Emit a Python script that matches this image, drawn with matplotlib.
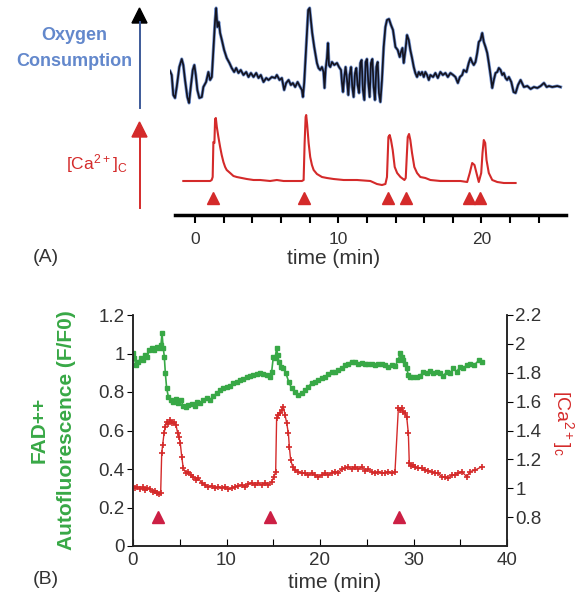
"""Two-panel figure: oxygen consumption / cytosolic Ca2+ (A) and FAD autofluorescence vs Ca2+ (B)."""

import matplotlib
matplotlib.use("Agg")
import matplotlib.pyplot as plt
from matplotlib.patches import Polygon

plt.rcParams['font.family'] = ['Liberation Sans', 'DejaVu Sans']
plt.rcParams['mathtext.default'] = 'regular'

# ---- Panel A data (arbitrary units, time in min) ----
o2_time = [-1.75, -1.63, -1.52, -1.40, -1.28, -1.10, -0.93, -0.82, -0.70, -0.54,
           -0.42, -0.30, -0.16, -0.05, 0.05, 0.16, 0.30, 0.47, 0.58, 0.77,
           0.93, 1.05, 1.17, 1.28, 1.40, 1.47, 1.56, 1.66, 1.75, 1.87,
           2.03, 2.21, 2.40, 2.56, 2.73, 2.87, 3.03, 3.19, 3.38, 3.57,
           3.73, 3.90, 4.08, 4.27, 4.43, 4.59, 4.78, 4.97, 5.13, 5.36,
           5.59, 5.71, 5.90, 6.06, 6.22, 6.36, 6.53, 6.69, 6.83, 6.99,
           7.16, 7.34, 7.46, 7.53, 7.62, 7.71, 7.81, 7.90, 8.00, 8.09,
           8.18, 8.32, 8.51, 8.62, 8.74, 8.86, 8.97, 9.04, 9.11, 9.21,
           9.28, 9.35, 9.44, 9.56, 9.72, 9.91, 10.05, 10.19, 10.26, 10.33,
           10.42, 10.51, 10.61, 10.70, 10.79, 10.89, 10.98, 11.07, 11.17, 11.26,
           11.35, 11.45, 11.54, 11.63, 11.72, 11.82, 11.91, 12.00, 12.10, 12.19,
           12.28, 12.38, 12.47, 12.56, 12.66, 12.75, 12.84, 12.94, 13.05, 13.17,
           13.29, 13.40, 13.54, 13.68, 13.82, 13.99, 14.15, 14.29, 14.38, 14.48,
           14.57, 14.69, 14.80, 14.92, 15.03, 15.15, 15.27, 15.38, 15.50, 15.62,
           15.73, 15.85, 15.97, 16.08, 16.20, 16.32, 16.43, 16.62, 16.78, 16.95,
           17.13, 17.30, 17.48, 17.65, 17.83, 18.02, 18.18, 18.35, 18.49, 18.65,
           18.76, 18.95, 19.11, 19.23, 19.34, 19.46, 19.58, 19.70, 19.81, 19.93,
           20.05, 20.16, 20.28, 20.40, 20.51, 20.63, 20.75, 20.86, 20.98, 21.10,
           21.21, 21.33, 21.45, 21.56, 21.68, 21.79, 21.91, 22.08, 22.24, 22.38,
           22.55, 22.73, 22.96, 23.20, 23.43, 23.66, 23.90, 24.13, 24.36, 24.55,
           24.71, 24.94, 25.29, 25.52]
o2_value = [144, 140, 120, 117, 128, 148, 156, 150, 135, 118,
            112, 128, 145, 150, 140, 125, 117, 118, 128, 133,
            143, 135, 138, 165, 195, 207, 188, 193, 182, 175,
            165, 157, 152, 147, 143, 147, 142, 145, 140, 143,
            138, 142, 138, 142, 137, 140, 133, 137, 135, 138,
            137, 140, 135, 137, 125, 132, 135, 130, 132, 128,
            133, 128, 125, 118, 132, 155, 182, 205, 207, 195,
            182, 168, 152, 147, 145, 148, 143, 127, 145, 157,
            172, 150, 148, 153, 150, 152, 148, 145, 132, 123,
            138, 148, 135, 120, 140, 148, 128, 118, 142, 147,
            130, 122, 152, 155, 125, 115, 153, 156, 132, 118,
            152, 156, 128, 115, 148, 153, 122, 113, 135, 168,
            188, 195, 196, 190, 185, 168, 165, 158, 163, 167,
            152, 165, 180, 175, 165, 157, 148, 142, 138, 143,
            140, 143, 138, 143, 140, 135, 140, 138, 142, 137,
            143, 140, 142, 138, 142, 140, 138, 132, 138, 140,
            145, 143, 152, 157, 153, 150, 153, 162, 173, 175,
            182, 173, 168, 162, 152, 140, 127, 135, 142, 143,
            147, 145, 140, 142, 137, 135, 138, 133, 123, 122,
            130, 135, 128, 129, 126, 128, 127, 129, 132, 128,
            129, 128, 129, 128]

ca_a_time = [-0.82, 0.12, 1.05, 1.16, 1.23, 1.28, 1.35, 1.40, 1.45, 1.52,
             1.63, 1.75, 1.86, 1.98, 2.10, 2.21, 2.45, 2.68, 2.91, 3.26,
             3.61, 4.08, 4.55, 5.24, 5.71, 6.18, 6.88, 7.46, 7.58, 7.65,
             7.72, 7.76, 7.83, 7.93, 8.04, 8.16, 8.28, 8.51, 8.86, 9.21,
             9.67, 10.37, 11.31, 12.24, 12.70, 13.05, 13.29, 13.40, 13.50, 13.59,
             13.68, 13.80, 13.94, 14.11, 14.34, 14.62, 14.71, 14.78, 14.85, 14.94,
             15.03, 15.15, 15.31, 15.50, 15.73, 16.08, 16.43, 17.13, 17.83, 18.53,
             19.00, 19.18, 19.35, 19.51, 19.65, 19.81, 19.98, 20.07, 20.16, 20.26,
             20.35, 20.51, 20.75, 21.10, 21.56, 22.38]
ca_a_value = [34, 34, 34, 35, 38, 73, 72, 96, 97, 88,
              78, 68, 60, 53, 48, 45, 42, 39, 38, 37,
              36, 35, 35, 34, 35, 34, 34, 34, 35, 72,
              98, 100, 90, 72, 58, 50, 45, 41, 38, 37,
              36, 35, 35, 34, 31, 30, 31, 38, 78, 80,
              75, 65, 48, 42, 38, 35, 37, 58, 78, 81,
              75, 62, 48, 42, 38, 37, 35, 34, 34, 34,
              33, 42, 52, 50, 42, 33, 42, 62, 75, 72,
              55, 42, 35, 33, 32, 32]

stim_a_time = [1.24, 7.58, 13.45, 14.71, 19.11, 19.93]
stim_a_level = 16.7

# ---- Panel B data ----
fad_time = [0.00, 0.14, 0.32, 0.57, 0.82, 1.03, 1.28, 1.53, 1.75, 2.00,
            2.25, 2.53, 2.82, 2.99, 3.10, 3.24, 3.35, 3.46, 3.60, 3.78,
            4.03, 4.31, 4.60, 4.85, 5.10, 5.38, 5.67, 5.92, 6.27, 6.63,
            6.88, 7.17, 7.52, 7.88, 8.24, 8.59, 8.95, 9.30, 9.66, 10.02,
            10.37, 10.73, 11.09, 11.44, 11.80, 12.16, 12.51, 12.87, 13.23, 13.58,
            13.94, 14.30, 14.65, 14.83, 15.01, 15.19, 15.36, 15.47, 15.61, 15.79,
            16.08, 16.36, 16.65, 16.97, 17.33, 17.68, 18.04, 18.40, 18.75, 19.11,
            19.47, 19.82, 20.18, 20.53, 20.89, 21.25, 21.60, 21.96, 22.32, 22.67,
            23.03, 23.39, 23.74, 24.10, 24.46, 24.81, 25.17, 25.52, 25.88, 26.24,
            26.59, 26.95, 27.31, 27.66, 28.02, 28.38, 28.56, 28.73, 28.91, 29.09,
            29.27, 29.45, 29.62, 29.98, 30.34, 30.69, 31.05, 31.41, 31.76, 32.12,
            32.48, 32.83, 33.19, 33.55, 33.90, 34.26, 34.62, 34.97, 35.33, 35.69,
            36.04, 36.50, 37.00, 37.30]
fad_value = [1.001, 0.975, 0.940, 0.957, 0.975, 0.966, 0.992, 0.983, 1.018, 1.027,
             1.018, 1.035, 1.027, 1.044, 1.105, 1.027, 0.983, 0.897, 0.819, 0.776,
             0.758, 0.750, 0.762, 0.741, 0.758, 0.727, 0.724, 0.733, 0.738, 0.727,
             0.750, 0.741, 0.758, 0.767, 0.758, 0.779, 0.793, 0.810, 0.819, 0.824,
             0.831, 0.845, 0.853, 0.862, 0.866, 0.876, 0.883, 0.888, 0.893, 0.900,
             0.893, 0.886, 0.879, 0.905, 0.983, 0.975, 1.027, 0.992, 0.957, 0.931,
             0.923, 0.897, 0.853, 0.819, 0.802, 0.784, 0.793, 0.810, 0.828, 0.845,
             0.853, 0.862, 0.871, 0.879, 0.893, 0.905, 0.905, 0.914, 0.923, 0.940,
             0.948, 0.957, 0.957, 0.948, 0.952, 0.948, 0.945, 0.945, 0.940, 0.948,
             0.948, 0.940, 0.931, 0.940, 0.935, 0.966, 1.001, 0.983, 0.966, 0.948,
             0.923, 0.888, 0.876, 0.876, 0.879, 0.883, 0.905, 0.900, 0.910, 0.900,
             0.905, 0.897, 0.883, 0.905, 0.897, 0.923, 0.905, 0.931, 0.923, 0.940,
             0.948, 0.940, 0.965, 0.955]

ca_b_time = [0.00, 0.21, 0.46, 0.75, 1.03, 1.28, 1.53, 1.82, 2.10, 2.35,
             2.60, 2.82, 2.96, 3.07, 3.17, 3.32, 3.46, 3.60, 3.78, 3.96,
             4.17, 4.39, 4.60, 4.78, 4.92, 5.06, 5.21, 5.38, 5.67, 5.92,
             6.17, 6.45, 6.74, 6.99, 7.34, 7.70, 8.06, 8.41, 8.77, 9.13,
             9.48, 9.84, 10.20, 10.55, 10.91, 11.27, 11.62, 11.98, 12.34, 12.69,
             13.05, 13.40, 13.76, 14.12, 14.47, 14.83, 15.08, 15.26, 15.36, 15.54,
             15.72, 15.90, 16.08, 16.26, 16.44, 16.62, 16.72, 16.86, 17.08, 17.33,
             17.68, 18.04, 18.40, 18.75, 19.11, 19.47, 19.82, 20.18, 20.53, 20.89,
             21.25, 21.60, 21.96, 22.32, 22.67, 23.03, 23.39, 23.74, 24.10, 24.46,
             24.81, 25.17, 25.52, 25.88, 26.24, 26.59, 26.95, 27.31, 27.66, 28.02,
             28.38, 28.56, 28.73, 28.91, 29.09, 29.27, 29.45, 29.55, 29.70, 29.91,
             30.16, 30.52, 30.88, 31.23, 31.59, 31.95, 32.30, 32.66, 33.02, 33.37,
             33.73, 34.09, 34.44, 34.80, 35.16, 35.70, 36.04, 36.60, 37.30]
ca_b_value = [1.006, 1.000, 1.011, 0.993, 1.006, 0.988, 1.000, 0.993, 0.976, 0.983,
              0.965, 0.958, 0.969, 1.242, 1.300, 1.380, 1.426, 1.461, 1.445, 1.473,
              1.450, 1.461, 1.438, 1.380, 1.357, 1.311, 1.219, 1.138, 1.103, 1.115,
              1.092, 1.080, 1.057, 1.069, 1.038, 1.022, 1.011, 1.016, 1.000, 1.011,
              1.000, 1.011, 0.993, 1.000, 1.011, 1.016, 1.022, 1.011, 1.029, 1.038,
              1.022, 1.034, 1.022, 1.038, 1.022, 1.045, 1.080, 1.115, 1.484, 1.507,
              1.519, 1.542, 1.565, 1.507, 1.450, 1.380, 1.288, 1.196, 1.149, 1.126,
              1.115, 1.103, 1.103, 1.092, 1.103, 1.092, 1.080, 1.092, 1.103, 1.092,
              1.108, 1.115, 1.108, 1.131, 1.138, 1.149, 1.131, 1.149, 1.131, 1.149,
              1.122, 1.131, 1.115, 1.103, 1.115, 1.103, 1.108, 1.115, 1.103, 1.115,
              1.553, 1.542, 1.553, 1.530, 1.519, 1.496, 1.380, 1.173, 1.154, 1.161,
              1.149, 1.138, 1.138, 1.126, 1.122, 1.115, 1.103, 1.103, 1.080, 1.080,
              1.069, 1.092, 1.092, 1.103, 1.115, 1.080, 1.115, 1.126, 1.149]

stim_b_time = [2.7, 14.6, 28.4]
stim_b_level = 0.8

RED = '#d42a2a'
GREEN = '#38a846'
BLUE_TEXT = '#6388cc'
TICK_COLOR = '#333333'

fig = plt.figure(figsize=(5.78, 5.94), dpi=100)
W, H = 578.0, 594.0

# overlay in figure pixels for labels and the schematic arrows
ov = fig.add_axes([0, 0, 1, 1])
ov.set_xlim(0, W)
ov.set_ylim(H, 0)
ov.axis('off')
ov.patch.set_visible(False)

# ---------------- Panel A ----------------
axA = fig.add_axes([175 / W - (0.35 * 14.3) / W, 1 - 215 / H, (566 - 175 + 0.35 * 14.3) / W, 215 / H])
axA.patch.set_visible(False)
axA.set_xlim(-1.75, 25.9)
axA.set_ylim(0, 215)
axA.plot(o2_time, o2_value, color='#7292d0', lw=2.3, solid_joinstyle='round')
axA.plot(o2_time, o2_value, color='#141420', lw=1.25)
axA.plot(ca_a_time, ca_a_value, color=RED, lw=1.5)
axA.plot(stim_a_time, [stim_a_level] * len(stim_a_time), ls='none', marker='^',
         ms=8, color=RED, mec=RED)
for side in ['top', 'left', 'right']:
    axA.spines[side].set_visible(False)
axA.spines['bottom'].set_bounds(-1.4, 25.9)
axA.spines['bottom'].set_linewidth(2.5)
axA.set_yticks([])
axA.set_xticks([0, 10, 20])
axA.set_xticks(range(2, 26, 2), minor=True)
axA.tick_params(axis='x', which='both', direction='out', length=6, width=1.5,
                labelsize=12.5, labelcolor=TICK_COLOR, pad=6)
axA.tick_params(axis='x', which='minor', length=6)

# arrows on the left of panel A
ov.plot([139.5, 139.5], [108, 22], color='#3d5a99', lw=1.4)
ov.add_patch(Polygon([[132, 23], [147, 23], [139.5, 8]], closed=True, color='black'))
ov.plot([139.5, 139.5], [208, 136], color=RED, lw=1.4)
ov.add_patch(Polygon([[132, 137], [147, 137], [139.5, 122]], closed=True, color=RED))

ov.text(74, 36, 'Oxygen', color=BLUE_TEXT, fontsize=13, fontweight='bold',
        ha='center', va='center')
ov.text(74, 61, 'Consumption', color=BLUE_TEXT, fontsize=13, fontweight='bold',
        ha='center', va='center')
ov.text(97, 164, r'[Ca$^{2+}$]$_{C}$', color=RED, fontsize=12.5, ha='center', va='center')
ov.text(46, 258, '(A)', fontsize=14, color=TICK_COLOR, ha='center', va='center')
ov.text(334, 258, 'time (min)', fontsize=15, color=TICK_COLOR, ha='center', va='center')

# ---------------- Panel B ----------------
axB = fig.add_axes([133 / W, 1 - 546 / H, (507 - 133) / W, (546 - 315) / H])
axB.patch.set_visible(False)
axB.set_xlim(0, 40)
axB.set_ylim(0, 1.2)
axB.plot(fad_time, fad_value, color=GREEN, lw=1.2, marker='s', ms=3.2, mec=GREEN)
axB.spines['top'].set_visible(False)
axB.set_xticks(range(0, 41, 5))
axB.set_xticklabels(['0', '', '10', '', '20', '', '30', '', '40'])
axB.set_yticks([0, 0.2, 0.4, 0.6, 0.8, 1.0, 1.2])
axB.set_yticklabels(['0', '0.2', '0.4', '0.6', '0.8', '1', '1.2'])
axB.tick_params(axis='x', direction='in', length=5, labelsize=13.5, labelcolor=TICK_COLOR, pad=4)
axB.tick_params(axis='y', direction='out', length=4, labelsize=13.5, labelcolor=TICK_COLOR, pad=2)

axR = axB.twinx()
axR.set_ylim(0.6, 2.2)
axR.plot(ca_b_time, ca_b_value, color=RED, lw=1.0, marker='+', ms=4, mew=1.2)
axR.plot(stim_b_time, [stim_b_level] * len(stim_b_time), ls='none', marker='^',
         ms=8.5, color='#cc1f44')
axR.spines['top'].set_visible(False)
axR.set_yticks([0.8, 1.0, 1.2, 1.4, 1.6, 1.8, 2.0, 2.2])
axR.set_yticklabels(['0.8', '1', '1.2', '1.4', '1.6', '1.8', '2', '2.2'])
axR.tick_params(axis='y', direction='out', length=4, labelsize=13.5, labelcolor=TICK_COLOR, pad=2)

for ax in (axB, axR):
    for sp in ax.spines.values():
        sp.set_linewidth(1.1)
        sp.set_color('#222222')

ov.text(39, 430, 'FAD++', color=GREEN, fontsize=15, fontweight='bold',
        rotation=90, ha='center', va='center')
ov.text(66, 430, 'Autofluorescence (F/F0)', color=GREEN, fontsize=15, fontweight='bold',
        rotation=90, ha='center', va='center')
ov.text(563, 423, r'[Ca$^{2+}$]$_{c}$', color=RED, fontsize=14,
        rotation=270, ha='center', va='center')
ov.text(46, 580, '(B)', fontsize=14, color=TICK_COLOR, ha='center', va='center')
ov.text(335, 582, 'time (min)', fontsize=15, color=TICK_COLOR, ha='center', va='center')

fig.savefig('out.png', dpi=100)
